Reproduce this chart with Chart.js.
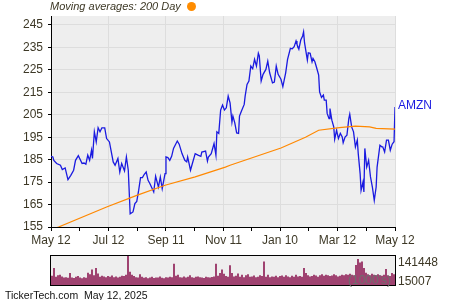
<!DOCTYPE html>
<html lang="en">
<head>
<meta charset="UTF-8">
<title>AMZN</title>
<style>
  body { margin: 0; background: #fff; font-family: "Liberation Sans", Arial, sans-serif; }
  #wrap { position: relative; width: 450px; height: 300px; overflow: hidden; }
  #main { position: absolute; left: 0; top: 0; }
  #vol { position: absolute; left: 0; top: 250px; }
  #title { position: absolute; left: 50px; top: 0; font-size: 11px; line-height: 13px; font-style: italic; color: #3d3826; white-space: nowrap; }
  #dot { position: absolute; left: 187px; top: 2px; width: 9px; height: 9px; border-radius: 50%; background: #ff8c00; }
  #foot { position: absolute; left: 5px; top: 289px; font-size: 10.5px; line-height: 12px; color: #111; white-space: nowrap; }
</style>
</head>
<body>
<div id="wrap">
  <canvas id="main" width="450" height="250"></canvas>
  <canvas id="vol" width="450" height="50"></canvas>
  <div id="title">Moving averages: 200 Day</div>
  <div id="dot"></div>
  <div id="foot">TickerTech.com&nbsp;&nbsp;May 12, 2025</div>
</div>

<script src="https://cdn.jsdelivr.net/npm/chart.js"></script>
<script>
// days counted from May 12, 2024
var xTickDays = [0, 61, 122, 183, 243, 304, 365];
var xTickLabels = ['May 12', 'Jul 12', 'Sep 11', 'Nov 11', 'Jan 10', 'Mar 12', 'May 12'];
var yTickLabels = [155, 165, 175, 185, 195, 205, 215, 225, 235, 245];

var priceDays = [0, 2, 3, 6, 10, 12, 15, 18, 21, 24, 26, 29, 33, 35, 37, 39, 41, 43, 44, 46,
  48, 50, 52, 54, 57, 59, 62, 66, 68, 71, 73, 75, 78, 80, 82, 84, 87, 89, 91, 93,
  95, 97, 99, 101, 103, 105, 109, 111, 114, 116, 118, 121, 122, 124, 126, 128, 130, 134, 136, 139,
  142, 144, 145, 148, 150, 153, 156, 159, 160, 164, 166, 167, 170, 173, 175, 176, 178, 180, 182, 184,
  186, 188, 190, 192, 193, 195, 197, 199, 200, 202, 205, 206, 208, 210, 212, 214, 216, 218, 220, 221,
  223, 225, 228, 230, 232, 235, 237, 239, 241, 244, 246, 249, 251, 254, 256, 258, 260, 261, 263, 265,
  267, 268, 269, 272, 273, 275, 277, 278, 280, 282, 284, 285, 287, 289, 290, 292, 293, 295, 296, 298,
  300, 301, 303, 305, 307, 309, 310, 312, 314, 316, 317, 319, 321, 323, 325, 326, 328, 329, 331, 332,
  333, 335, 337, 339, 341, 343, 345, 346, 349, 351, 352, 354, 356, 358, 360, 362, 363, 364, 365];
var priceValues = [186.5, 186.2, 184.7, 183.3, 182.5, 180.6, 181.3, 176.1, 178.0, 180.3, 184.7, 186.8, 183.3, 183.5, 183.0, 187.0, 184.7, 189.2, 185.5, 197.4,
  192.9, 199.2, 197.4, 199.2, 199.2, 194.4, 192.9, 184.0, 182.5, 185.5, 179.5, 183.3, 180.0, 186.2, 180.3, 160.9, 161.7, 165.4, 166.4, 171.3,
  177.0, 177.0, 178.5, 179.5, 175.8, 174.3, 170.6, 177.6, 172.8, 177.3, 172.1, 178.8, 186.2, 185.9, 184.7, 186.5, 190.0, 193.3, 191.9, 187.7,
  184.7, 184.0, 186.2, 180.3, 183.3, 187.7, 187.0, 186.5, 188.4, 188.8, 184.4, 186.2, 187.7, 192.2, 187.0, 197.4, 196.7, 207.1, 209.3, 207.1,
  208.1, 213.3, 210.3, 201.7, 204.4, 201.4, 196.9, 196.7, 204.4, 206.6, 209.6, 213.3, 218.5, 220.0, 226.7, 225.5, 229.7, 226.7, 232.4, 231.2,
  220.0, 223.0, 225.2, 228.9, 223.7, 219.2, 219.6, 226.7, 223.0, 220.8, 217.5, 223.7, 229.7, 234.6, 234.4, 235.3, 237.9, 236.4, 234.2, 238.3,
  240.1, 241.9, 237.1, 229.4, 232.6, 232.4, 228.6, 230.1, 228.6, 225.7, 222.7, 215.2, 212.7, 213.8, 211.5, 211.5, 205.6, 203.3, 207.8, 202.6,
  199.6, 194.1, 198.1, 194.4, 196.7, 195.1, 192.5, 195.1, 195.9, 203.3, 205.3, 199.6, 197.4, 190.7, 193.7, 187.7, 178.8, 171.3, 175.0, 170.6,
  190.0, 181.7, 184.7, 177.3, 172.8, 166.9, 172.8, 181.7, 191.4, 190.7, 190.7, 188.4, 193.7, 193.7, 189.2, 191.9, 192.5, 193.0, 208.5];

var maDays = [0, 8, 59, 91, 121, 153, 185, 190, 244, 270, 284, 306, 323, 338, 345, 365];
var maValues = [153.7, 155.0, 163.9, 169.1, 173.6, 177.3, 181.7, 182.5, 190.2, 195.0, 198.1, 199.3, 199.9, 199.6, 198.9, 198.6];

// daily volume, millions of shares
var volumes = [45, 83, 40, 48, 50, 42, 36, 38, 35, 58,
  37, 34, 40, 44, 36, 33, 38, 35, 60, 52,
  75, 48, 83, 56, 40, 45, 42, 38, 44, 40,
  46, 38, 42, 36, 40, 45, 44, 50, 141, 65,
  50, 44, 38, 36, 52, 40, 35, 38, 33, 36,
  40, 34, 37, 36, 42, 35, 33, 38, 36, 40,
  38, 104, 45, 50, 38, 36, 42, 37, 40, 47,
  38, 35, 40, 42, 38, 36, 34, 40, 38, 36,
  39, 42, 104, 45, 58, 75, 55, 44, 40, 96,
  58, 42, 45, 56, 40, 50, 38, 48, 52, 40,
  42, 46, 38, 40, 47, 44, 115, 40, 50, 38,
  42, 40, 45, 38, 44, 46, 40, 48, 42, 38,
  45, 40, 50, 42, 44, 40, 83, 58, 48, 42,
  44, 50, 46, 40, 48, 52, 45, 50, 48, 44,
  46, 52, 48, 42, 45, 50, 48, 52, 50, 55,
  50, 48, 98, 127, 110, 115, 83, 60, 52, 48,
  55, 50, 47, 52, 48, 45, 50, 78, 46, 44, 58, 52];
var volMaxLabel = '141448';
var volMinLabel = '15007';

var labelColor = '#3d3826';
var tickFont = { family: '"Liberation Sans", Arial, sans-serif', size: 12 };

var xMinor = [];
for (var i = 0; i < xTickDays.length - 1; i++) xMinor.push((xTickDays[i] + xTickDays[i + 1]) / 2);
var xAll = xTickDays.concat(xMinor).sort(function (a, b) { return a - b; });
var yAll = [];
for (var v = 155; v <= 245; v += 5) yAll.push(v);

var plotBg = {
    id: 'plotBg',
    beforeDraw: function (chart) {
        var a = chart.chartArea, c = chart.ctx;
        c.save();
        c.fillStyle = '#eeeeee';
        c.fillRect(a.left, a.top, a.right - a.left, a.bottom - a.top);
        c.restore();
    }
};

var tickerLabel = {
    id: 'tickerLabel',
    afterDatasetsDraw: function (chart) {
        var pts = chart.getDatasetMeta(1).data;
        var p = pts[pts.length - 1];
        var c = chart.ctx;
        c.save();
        c.font = '12px "Liberation Sans", Arial, sans-serif';
        c.fillStyle = '#1a1ae0';
        c.textBaseline = 'middle';
        c.fillText('AMZN', p.x + 3, p.y - 1);
        c.restore();
    }
};

new Chart(document.getElementById('main'), {
    type: 'line',
    data: {
        datasets: [{
            label: '200 Day',
            data: maDays.map(function (d, i) { return { x: d, y: maValues[i] }; }),
            borderColor: '#ff8800',
            borderWidth: 1.2,
            pointRadius: 0,
            tension: 0
        }, {
            label: 'AMZN',
            data: priceDays.map(function (d, i) { return { x: d, y: priceValues[i] }; }),
            borderColor: '#1a1ae0',
            borderWidth: 1.3,
            pointRadius: 0,
            tension: 0
        }]
    },
    options: {
        responsive: false,
        animation: false,
        events: [],
        layout: { padding: { top: 16, right: 55, left: 0, bottom: 0 } },
        plugins: { legend: { display: false }, tooltip: { enabled: false } },
        scales: {
            x: {
                type: 'linear', min: 0, max: 365,
                afterBuildTicks: function (s) { s.ticks = xAll.map(function (v) { return { value: v }; }); },
                afterFit: function (s) { s.height = 23; },
                ticks: {
                    autoSkip: false, maxRotation: 0, padding: 2,
                    color: labelColor, font: tickFont,
                    callback: function (val) {
                        var k = xTickDays.indexOf(val);
                        return k >= 0 ? xTickLabels[k] : '';
                    }
                },
                grid: {
                    color: function (ctx) {
                        return ctx.tick && xTickDays.indexOf(ctx.tick.value) >= 0 ? '#dddddd' : 'rgba(0,0,0,0)';
                    },
                    tickColor: '#000', tickLength: 4, lineWidth: 1
                },
                border: { color: '#000', width: 1 }
            },
            y: {
                min: 155, max: 249,
                afterBuildTicks: function (s) { s.ticks = yAll.map(function (v) { return { value: v }; }); },
                afterFit: function (s) { s.width = 51; },
                ticks: {
                    padding: 5, color: labelColor, font: tickFont,
                    callback: function (val) { return yTickLabels.indexOf(val) >= 0 ? String(val) : ''; }
                },
                grid: {
                    color: function (ctx) {
                        return ctx.tick && yTickLabels.indexOf(ctx.tick.value) >= 0 ? '#dddddd' : 'rgba(0,0,0,0)';
                    },
                    tickColor: '#000', tickLength: 3, lineWidth: 1
                },
                border: { color: '#000', width: 1 }
            }
        }
    },
    plugins: [plotBg, tickerLabel]
});

var volFrame = {
    id: 'volFrame',
    beforeDraw: plotBg.beforeDraw,
    afterDraw: function (chart) {
        var a = chart.chartArea, c = chart.ctx;
        c.save();
        c.strokeStyle = '#000';
        c.lineWidth = 1;
        c.strokeRect(a.left - 0.5, a.top - 0.5, a.right - a.left + 1, a.bottom - a.top + 1);
        c.font = '12px "Liberation Sans", Arial, sans-serif';
        c.textBaseline = 'middle';
        c.fillStyle = '#6e6e6e';
        c.fillText("(1000's)", a.right - 47, a.bottom - 4);
        c.fillStyle = labelColor;
        c.fillText(volMaxLabel, a.right + 3, a.top + 7);
        c.fillText(volMinLabel, a.right + 3, a.bottom - 3);
        c.restore();
    }
};

new Chart(document.getElementById('vol'), {
    type: 'bar',
    data: {
        labels: volumes.map(function (v, i) { return i; }),
        datasets: [{
            data: volumes,
            backgroundColor: '#962f62',
            barPercentage: 0.9,
            categoryPercentage: 1
        }]
    },
    options: {
        responsive: false,
        animation: false,
        events: [],
        layout: { padding: { top: 6, right: 55, left: 51, bottom: 15 } },
        plugins: { legend: { display: false }, tooltip: { enabled: false } },
        scales: {
            x: { display: false },
            y: { display: false, min: 0, max: 141.448 }
        }
    },
    plugins: [volFrame]
});
</script>
</body>
</html>
